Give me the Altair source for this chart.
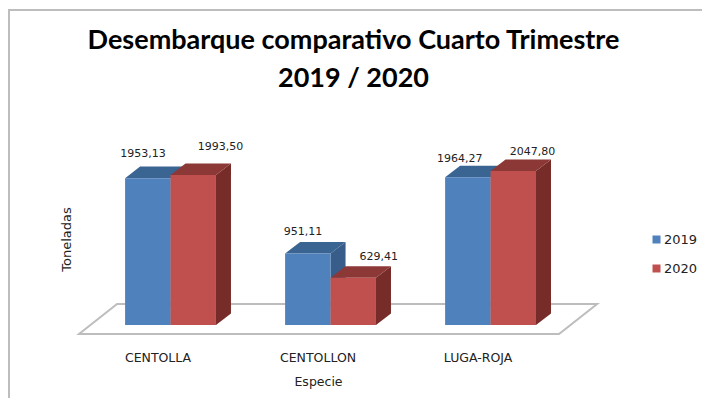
import altair as alt
import pandas as pd

categories = ["CENTOLLA", "CENTOLLON", "LUGA-ROJA"]
years = ["2019", "2020"]
values_2019 = [1953.13, 951.11, 1964.27]
values_2020 = [1993.50, 629.41, 2047.80]
labels_2019 = ["1953,13", "951,11", "1964,27"]
labels_2020 = ["1993,50", "629,41", "2047,80"]

# value-label offsets from each bar's top centre (category units, tonnes)
label_shift_x_2019 = [-0.03, -0.03, -0.05]
label_shift_x_2020 = [0.17, 0.16, 0.12]
label_shift_y_2019 = [317, 292, 237]
label_shift_y_2020 = [372, 277, 252]

# geometry of the pseudo-3D look, in scale units
BAR_W = 0.284
DEPTH_X = 15 / 160
DEPTH_Y = 153
FLOOR_X = [-0.572, -0.334, 2.428, 2.666]
FLOOR_FRONT = -120
FLOOR_BACK = 279
X_DOMAIN = [-0.597, 2.684]
Y_DOMAIN = [-119.7, 2407]

FRONT = {"2019": "#4F81BD", "2020": "#C0504D"}
SIDE = {"2019": "#385D8A", "2020": "#772C2A"}
TOP = {"2019": "#3A6491", "2020": "#8C3836"}
GREY = "#BDBDBD"
FONT = "DejaVu Sans"
TITLE_FONT = "Lato"
TEXT = "#222222"

xs = alt.Scale(domain=X_DOMAIN, nice=False, zero=False)
ys = alt.Scale(domain=Y_DOMAIN, nice=False, zero=False)

X_AXIS = alt.Axis(
    values=[0, 1, 2],
    labelExpr="['CENTOLLA','CENTOLLON','LUGA-ROJA'][datum.value]",
    domain=False, ticks=False, grid=False,
    labelFont=FONT, labelFontSize=12.5, labelColor=TEXT,
    labelPadding=17, labelOffset=-13,
    titleFont=FONT, titleFontSize=12.5, titleColor=TEXT,
    titleFontWeight="normal", titleX=243, titleY=47, titleBaseline="middle",
)
Y_AXIS = alt.Axis(
    domain=False, ticks=False, labels=False, grid=False,
    titleFont=FONT, titleFontSize=13, titleColor=TEXT,
    titleFontWeight="normal", titlePadding=2,
)
X = alt.X("x:Q", scale=xs, title="Especie", axis=X_AXIS)
Y = alt.Y("y:Q", scale=ys, title="Toneladas", axis=Y_AXIS, stack=None)

front, side, top, text = [], [], [], []
series = {
    "2019": (values_2019, labels_2019, label_shift_x_2019, label_shift_y_2019, -1),
    "2020": (values_2020, labels_2020, label_shift_x_2020, label_shift_y_2020, 0),
}
for yr in years:
    vals, labs, sx, sy, pos = series[yr]
    for i, v in enumerate(vals):
        x0 = i + pos * BAR_W
        x1 = x0 + BAR_W
        key = f"{yr}-{i}"
        front.append(dict(x=x0, x2=x1, y=v, y2=0, year=yr))
        side += [
            dict(x=x1, y=v, y2=0, key=key),
            dict(x=x1 + DEPTH_X, y=v + DEPTH_Y, y2=DEPTH_Y, key=key),
        ]
        top += [
            dict(x=x0, y=v, y2=v, key=key),
            dict(x=x0 + DEPTH_X, y=v + DEPTH_Y, y2=v, key=key),
            dict(x=x1, y=v + DEPTH_Y, y2=v, key=key),
            dict(x=x1 + DEPTH_X, y=v + DEPTH_Y, y2=v + DEPTH_Y, key=key),
        ]
        text.append(dict(x=(x0 + x1) / 2 + sx[i], y=v + sy[i], label=labs[i]))

front_df, side_df, top_df = map(pd.DataFrame, (front, side, top))
text_df = pd.DataFrame(text)
floor_df = pd.DataFrame({
    "x": FLOOR_X,
    "y": [FLOOR_FRONT, FLOOR_BACK, FLOOR_BACK, FLOOR_BACK],
    "y2": [FLOOR_FRONT, FLOOR_FRONT, FLOOR_FRONT, FLOOR_BACK],
})


def area(df, color):
    return alt.Chart(df).mark_area(orient="vertical", color=color).encode(
        x=X, y=Y, y2="y2:Q", detail="key:N",
    )


floor = alt.Chart(floor_df).mark_area(
    orient="vertical", fill="white", stroke=GREY, strokeWidth=2
).encode(x=X, y=Y, y2="y2:Q")

layers = [floor]
for yr in years:
    layers.append(area(side_df[side_df.key.str.startswith(yr)], SIDE[yr]))
    layers.append(area(top_df[top_df.key.str.startswith(yr)], TOP[yr]))
    layers.append(
        alt.Chart(front_df[front_df.year == yr]).mark_rect().encode(
            x=X, x2="x2:Q", y=Y, y2="y2:Q",
            color=alt.Color(
                "year:N",
                scale=alt.Scale(domain=years, range=[FRONT[y] for y in years]),
                legend=alt.Legend(
                    title=None, orient="none", legendX=575, legendY=89,
                    symbolType="square", symbolSize=64, symbolStrokeWidth=0,
                    labelFont=FONT, labelFontSize=13, labelColor=TEXT,
                    rowPadding=15, labelOffset=1,
                ),
            ),
        )
    )

labels = alt.Chart(text_df).mark_text(
    font=FONT, fontSize=11, color=TEXT, baseline="middle"
).encode(x=X, y=Y, text="label:N")

frame_top = alt.Chart(pd.DataFrame({"a": [0]})).mark_rule(color=GREY, strokeWidth=2).encode(
    x=alt.value(-67), x2=alt.value(627), y=alt.value(-134)
)
frame_left = alt.Chart(pd.DataFrame({"a": [0]})).mark_rule(color=GREY, strokeWidth=2).encode(
    x=alt.value(-66), y=alt.value(-135), y2=alt.value(254)
)

chart = alt.layer(*layers, labels, frame_top, frame_left).properties(
    width=525,
    height=190,
    padding={"left": 67, "right": 102, "top": 136, "bottom": 64},
    autosize=alt.AutoSizeParams(type="none", contains="content"),
    background="white",
    title=alt.TitleParams(
        text=["Desembarque comparativo Cuarto Trimestre", "2019 / 2020"],
        font=TITLE_FONT, fontSize=27, fontWeight="bold", color="black",
        lineHeight=38, anchor="middle", dx=16, dy=116, baseline="bottom",
    ),
).configure_view(stroke=None)

chart.save("out.html", embed_options={"renderer": "svg", "actions": False})
